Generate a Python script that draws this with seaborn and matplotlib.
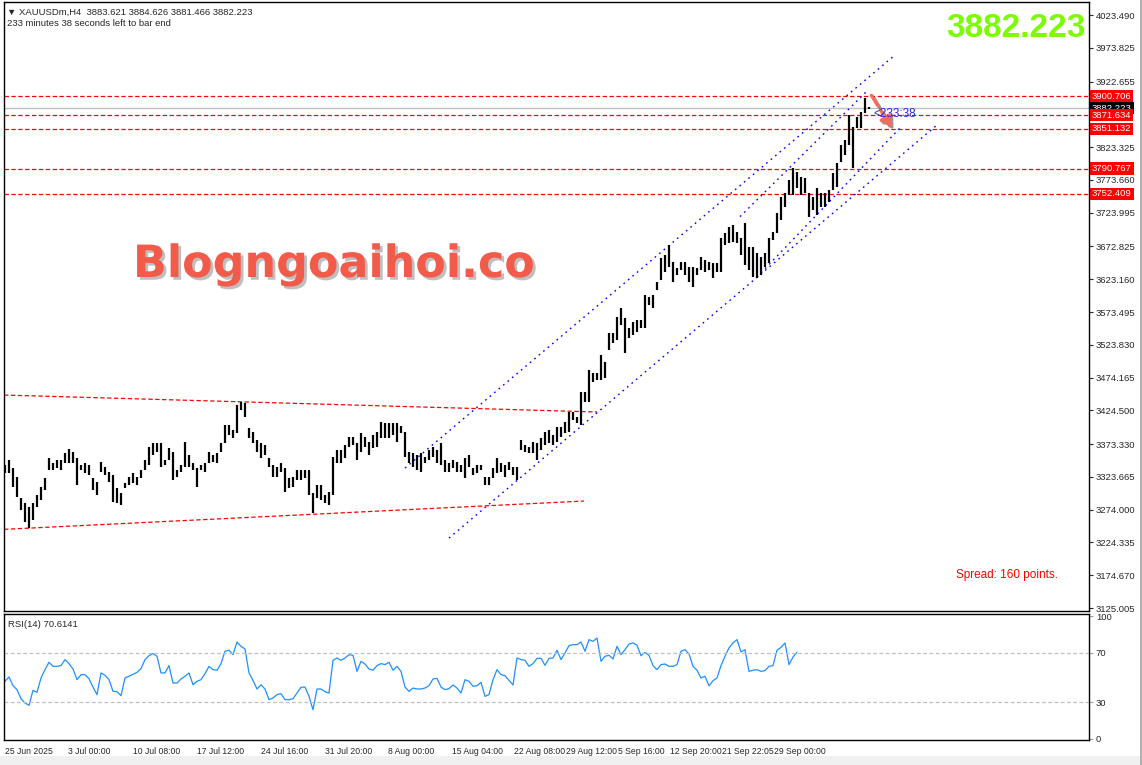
import matplotlib
matplotlib.use("Agg")
import matplotlib.pyplot as plt
import matplotlib.patheffects as pe
from matplotlib.patches import Rectangle
import seaborn as sns

# H4 bars of XAUUSDm (one bar kept for every two)
bar_high = [
    3341.6, 3349.2, 3336.6, 3324.0, 3291.1, 3283.5, 3278.5, 3283.5, 3296.2, 3308.8,
    3321.4, 3351.7, 3344.2, 3349.2, 3349.2, 3359.3, 3365.9, 3361.8, 3351.7, 3341.6,
    3344.2, 3341.6, 3321.4, 3316.4, 3346.7, 3339.1, 3331.5, 3326.5, 3306.3, 3298.7,
    3313.9, 3324.0, 3329.0, 3324.0, 3334.1, 3349.2, 3369.4, 3374.5, 3374.5, 3374.5,
    3349.2, 3367.9, 3361.8, 3334.1, 3341.6, 3377.0, 3356.8, 3344.2, 3336.6, 3341.6,
    3344.2, 3361.8, 3356.8, 3359.3, 3374.5, 3402.2, 3402.2, 3394.7, 3432.5, 3437.6,
    3435.1, 3397.2, 3392.1, 3379.5, 3374.5, 3371.9, 3351.7, 3341.6, 3339.1, 3344.2,
    3336.6, 3321.4, 3324.0, 3334.1, 3334.1, 3334.1, 3334.1, 3298.7, 3311.3, 3311.3,
    3296.2, 3301.3, 3354.3, 3364.4, 3364.4, 3371.9, 3384.6, 3384.6, 3374.5, 3389.6,
    3384.6, 3377.0, 3387.1, 3392.1, 3407.3, 3404.7, 3404.7, 3404.7, 3404.7, 3400.8,
    3392.2, 3361.9, 3359.3, 3356.8, 3359.3, 3354.3, 3364.4, 3369.4, 3364.4, 3374.5,
    3349.2, 3344.2, 3349.2, 3346.7, 3341.7, 3351.8, 3356.8, 3336.6, 3341.7, 3341.7,
    3324.0, 3324.0, 3336.6, 3351.8, 3344.2, 3341.7, 3346.7, 3339.2, 3339.2, 3379.5,
    3372.0, 3369.4, 3377.0, 3374.5, 3382.1, 3392.2, 3394.7, 3387.1, 3399.8, 3399.8,
    3407.3, 3422.5, 3422.5, 3414.9, 3452.8, 3452.8, 3485.6, 3480.6, 3480.6, 3508.3,
    3498.2, 3541.2, 3541.2, 3566.5, 3579.1, 3563.9, 3548.8, 3558.9, 3561.4, 3561.4,
    3599.3, 3596.8, 3599.3, 3619.5, 3654.8, 3659.9, 3675.0, 3649.8, 3639.7, 3649.8,
    3649.8, 3642.2, 3642.2, 3639.7, 3657.3, 3652.3, 3649.8, 3647.2, 3647.2, 3685.1,
    3692.7, 3702.8, 3705.3, 3695.2, 3685.1, 3707.9, 3672.5, 3672.5, 3662.4, 3657.3,
    3662.4, 3685.1, 3695.2, 3723.0, 3748.3, 3753.3, 3773.5, 3791.2, 3786.1, 3778.6,
    3776.0, 3753.3, 3748.3, 3760.9, 3753.3, 3753.3, 3758.4, 3783.6, 3798.8, 3826.5,
    3834.1, 3872.0, 3854.3, 3869.5, 3877.0, 3897.2, 3884.6,
]
bar_low = [
    3329.0, 3329.0, 3308.8, 3293.7, 3273.4, 3255.8, 3245.7, 3258.3, 3278.5, 3288.6,
    3303.8, 3334.1, 3334.1, 3336.6, 3334.1, 3344.2, 3344.2, 3344.2, 3311.3, 3334.1,
    3329.0, 3326.5, 3303.8, 3296.2, 3331.5, 3326.5, 3316.4, 3286.1, 3283.5, 3281.0,
    3306.3, 3311.3, 3313.9, 3311.3, 3321.4, 3334.1, 3341.6, 3356.8, 3361.8, 3339.1,
    3341.6, 3349.2, 3318.9, 3324.0, 3331.5, 3339.1, 3339.1, 3334.1, 3308.8, 3334.1,
    3331.5, 3344.2, 3346.7, 3344.2, 3361.8, 3374.5, 3387.1, 3382.0, 3389.6, 3424.9,
    3414.8, 3382.0, 3374.5, 3361.8, 3351.7, 3356.8, 3339.1, 3324.0, 3324.0, 3331.5,
    3301.3, 3306.3, 3308.8, 3318.9, 3318.9, 3321.4, 3296.2, 3268.4, 3291.1, 3288.6,
    3283.5, 3281.0, 3296.2, 3344.2, 3344.2, 3351.7, 3369.4, 3372.0, 3349.2, 3361.8,
    3369.4, 3356.8, 3366.9, 3369.4, 3382.0, 3382.0, 3382.0, 3387.1, 3377.0, 3389.6,
    3354.3, 3344.2, 3339.2, 3334.1, 3331.6, 3344.2, 3349.2, 3354.3, 3344.2, 3341.7,
    3331.6, 3331.6, 3336.6, 3331.6, 3331.6, 3321.5, 3339.2, 3326.5, 3329.1, 3334.1,
    3311.4, 3311.4, 3321.5, 3329.1, 3331.6, 3324.0, 3334.1, 3326.5, 3318.9, 3364.4,
    3361.9, 3359.3, 3359.3, 3349.2, 3364.4, 3372.0, 3374.5, 3372.0, 3377.0, 3384.6,
    3389.6, 3392.2, 3409.9, 3404.8, 3402.3, 3437.6, 3437.6, 3467.9, 3470.5, 3470.5,
    3473.0, 3515.9, 3526.0, 3531.1, 3553.8, 3510.9, 3533.6, 3538.7, 3543.7, 3548.8,
    3548.8, 3584.1, 3579.1, 3606.9, 3622.0, 3634.6, 3642.2, 3619.5, 3629.6, 3637.1,
    3629.6, 3619.5, 3611.9, 3629.6, 3637.1, 3634.6, 3637.1, 3624.5, 3634.6, 3634.6,
    3675.0, 3677.6, 3680.1, 3677.6, 3659.9, 3644.7, 3637.1, 3627.1, 3624.5, 3629.6,
    3642.2, 3647.2, 3682.6, 3692.7, 3712.9, 3733.1, 3750.8, 3750.8, 3760.9, 3750.8,
    3753.3, 3718.0, 3728.1, 3720.5, 3733.1, 3733.1, 3740.7, 3758.4, 3763.4, 3801.3,
    3811.4, 3826.5, 3791.2, 3851.8, 3851.8, 3874.5, 3881.5,
]

rsi_values = [
    46.9, 50.4, 43.3, 40.1, 32.7, 29.2, 27.3, 39.5, 37.9, 49.6,
    56.4, 62.4, 59.1, 59.1, 59.7, 64.6, 61.3, 56.9, 48.2, 52.3,
    52.3, 49.0, 42.2, 36.0, 53.7, 51.8, 48.2, 38.7, 38.4, 35.2,
    49.6, 51.0, 52.6, 54.2, 57.2, 64.6, 67.8, 69.5, 67.3, 53.7,
    53.7, 59.7, 45.5, 45.5, 48.8, 51.0, 53.7, 44.1, 46.9, 48.2,
    53.1, 59.1, 56.4, 55.9, 61.3, 71.4, 72.2, 68.6, 79.0, 75.4,
    73.3, 53.7, 47.7, 40.6, 44.1, 40.6, 31.9, 33.3, 36.0, 36.8,
    31.9, 31.9, 32.7, 37.3, 42.0, 42.2, 34.6, 23.7, 40.6, 40.6,
    38.4, 37.3, 64.0, 65.9, 64.0, 65.9, 68.6, 68.1, 55.0, 63.2,
    61.0, 56.9, 55.9, 59.7, 61.3, 60.5, 62.4, 55.9, 59.1, 55.0,
    42.2, 38.7, 41.4, 40.6, 40.6, 41.4, 43.3, 48.8, 49.3, 42.2,
    40.1, 40.9, 43.9, 41.4, 37.3, 48.2, 46.9, 42.8, 43.3, 46.1,
    34.6, 36.0, 48.2, 56.4, 52.3, 51.5, 47.7, 43.9, 65.9, 64.6,
    64.0, 59.1, 61.3, 65.6, 65.6, 59.9, 65.6, 65.9, 72.2, 64.6,
    70.0, 76.0, 76.8, 76.8, 79.0, 71.4, 80.9, 79.5, 82.2, 63.2,
    67.3, 68.1, 65.1, 75.4, 68.6, 72.7, 77.3, 78.2, 76.3, 67.8,
    70.5, 68.1, 59.7, 56.4, 60.5, 61.0, 59.1, 59.1, 60.5, 71.4,
    72.7, 69.2, 59.1, 55.9, 49.6, 51.0, 43.3, 47.4, 49.6, 59.7,
    67.3, 74.1, 78.2, 80.9, 70.8, 72.7, 55.0, 55.9, 56.4, 55.0,
    55.6, 59.1, 59.7, 72.2, 74.6, 78.2, 60.5, 66.7, 70.6,
]

date_labels = ["25 Jun 2025", "3 Jul 00:00", "10 Jul 08:00", "17 Jul 12:00",
               "24 Jul 16:00", "31 Jul 20:00", "8 Aug 00:00", "15 Aug 04:00",
               "22 Aug 08:00", "29 Aug 12:00", "5 Sep 16:00", "12 Sep 20:00",
               "21 Sep 22:05", "29 Sep 00:00"]
date_pos = [0, 15.75, 32, 48, 64, 80, 95.75, 111.75, 127.25, 140.25,
            153.25, 166.25, 179.25, 192.25]

price_ticks = [4023.490, 3973.825, 3922.655, 3823.325, 3773.660, 3723.995,
               3672.825, 3623.160, 3573.495, 3523.830, 3474.165, 3424.500,
               3373.330, 3323.665, 3274.000, 3224.335, 3174.670, 3125.005]
levels = [3900.706, 3871.634, 3851.132, 3790.767, 3752.409]
ohlc = [3883.621, 3884.626, 3881.466, 3882.223]
rsi_last = 70.6141
spread = 160

# trend lines as (bar0, price0, bar1, price1)
red_lines = [(-0.25, 3447.7, 148.0, 3422.0), (-0.25, 3244.2, 144.75, 3287.1)]
blue_lines = [(100.0, 3337.1, 222.5, 3962.9), (111.0, 3231.0, 233.0, 3856.8),
              (188.0, 3626.5, 223.75, 3852.3), (183.75, 3718.0, 215.25, 3906.8)]
arrow = (216.25, 3905.3, 222.0, 3849.3)

sns.set_style("white")
plt.rcParams["font.family"] = ["Liberation Sans", "DejaVu Sans"]

W, H = 1142, 765
fig = plt.figure(figsize=(W / 100, H / 100), dpi=100)


def box(x0, y0, x1, y1):
    return [x0 / W, 1 - y1 / H, (x1 - x0) / W, (y1 - y0) / H]


ax = fig.add_axes(box(4, 2, 1089, 611))
ax_rsi = fig.add_axes(box(4, 614, 1089, 740))

xs = list(range(len(bar_high)))
ax.vlines(xs, bar_low, bar_high, color="black", linewidth=1.6, zorder=3)

for lv in levels:
    ax.axhline(lv, color="red", lw=0.9, dashes=(3.5, 2), zorder=2)
ax.axhline(ohlc[3], color="#c0c0c0", lw=1.0, zorder=1)

for x0, y0, x1, y1 in red_lines:
    ax.plot([x0, x1], [y0, y1], color="red", lw=0.9, dashes=(3.5, 2), zorder=2)
for x0, y0, x1, y1 in blue_lines:
    ax.plot([x0, x1], [y0, y1], color="blue", lw=1.0, dashes=(1.2, 3), zorder=2)

ax.annotate("", xy=arrow[2:], xytext=arrow[:2],
            arrowprops=dict(arrowstyle="-|>,head_width=0.35,head_length=0.6",
                            color="#f26b5b", lw=2.4, linestyle="--",
                            path_effects=[pe.SimpleLineShadow(offset=(1.5, -1.5), alpha=0.4),
                                          pe.Normal()]),
            zorder=6)
ax.text(217, 3873.5, "<233:38", color="#2b2bd9", fontsize=8.5, va="center",
        ha="left", zorder=6)

ax.set_xlim(-0.25, 271)
ax.set_ylim(3120.5, 4043.2)
ax.set_xticks([])
ax.yaxis.tick_right()
ax.set_yticks(price_ticks, [f"{p:.3f}" for p in price_ticks])
ax.tick_params(axis="y", labelsize=6.8, length=3, pad=2, direction="out", width=0.8)

ytr = ax.get_yaxis_transform()


def tag(price, face, z):
    ax.annotate(f"{price:.3f}", xy=(1, price), xycoords=ytr, xytext=(2.2, 0),
                textcoords="offset points", ha="left", va="center", fontsize=6.8,
                color="white", annotation_clip=False, zorder=z,
                bbox=dict(boxstyle="square,pad=0.18", fc=face, ec="none"))


tag(ohlc[3], "black", 7)
for lv in levels:
    tag(lv, "red", 8)

# RSI panel
sns.lineplot(x=list(range(len(rsi_values))), y=rsi_values, ax=ax_rsi,
             color="#1e90ff", lw=0.9)
for lv in (70, 30):
    ax_rsi.axhline(lv, color="#c0c0c0", lw=0.9, dashes=(3, 2))
ax_rsi.set_xlim(-0.25, 271)
ax_rsi.set_ylim(-1.0, 101.8)
ax_rsi.yaxis.tick_right()
ax_rsi.set_yticks([100, 70, 30, 0], ["100", "70", "30", "0"])
ax_rsi.tick_params(axis="y", labelsize=6.8, length=3, pad=2, color="#a0a0a0")
ax_rsi.set_xticks(date_pos, date_labels)
ax_rsi.tick_params(axis="x", labelsize=6.2, length=3, pad=2, direction="out")
for lab in ax_rsi.get_xticklabels():
    lab.set_ha("left")
ax_rsi.set_xlabel("")
ax_rsi.set_ylabel("")
ax_rsi.text(0.004, 0.95, f"RSI(14) {rsi_last:.4f}", transform=ax_rsi.transAxes,
            fontsize=6.8, va="top", ha="left")

for a in (ax, ax_rsi):
    for s in a.spines.values():
        s.set_color("black")
        s.set_linewidth(1.0)

# header texts
fig.text(7 / W, 1 - 12 / H,
         "▼ XAUUSDm,H4  " + " ".join(f"{v:.3f}" for v in ohlc),
         fontsize=6.8, va="center", ha="left")
fig.text(7 / W, 1 - 24 / H, "233 minutes 38 seconds left to bar end",
         fontsize=6.8, va="center", ha="left")
fig.text(1086 / W, 1 - 37 / H, f"{ohlc[3]:.3f}", color="#7cfc00", fontsize=24,
         fontweight="bold", ha="right", va="baseline")
fig.text(133 / W, 1 - 277 / H, "Blogngoaihoi.co", color="#f25a4a", fontsize=32,
         fontweight="bold", family="DejaVu Sans", ha="left", va="baseline",
         path_effects=[pe.withSimplePatchShadow(offset=(2, -2), shadow_rgbFace="gray",
                                                alpha=0.5)])
fig.text(1058 / W, 1 - 575 / H, f"Spread: {spread} points.", color="red",
         fontsize=8.5, ha="right", va="center")

# window chrome
fig.patches.append(Rectangle((0, 0), 1, 9 / H, transform=fig.transFigure,
                             fc="#f0f0f0", ec="none"))
fig.patches.append(Rectangle((1140 / W, 0), 2 / W, 1, transform=fig.transFigure,
                             fc="#b0b0b0", ec="none"))

fig.savefig("out.png", dpi=100, facecolor="white")
